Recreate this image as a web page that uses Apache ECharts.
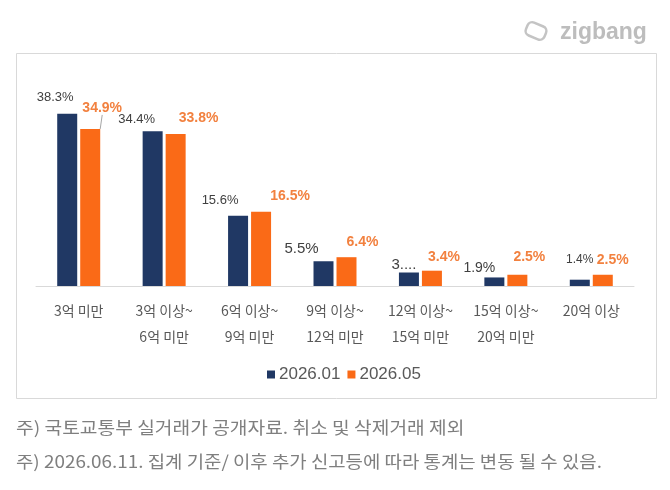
<!DOCTYPE html>
<html><head><meta charset="utf-8">
<script src="https://cdn.jsdelivr.net/npm/echarts@6/dist/echarts.min.js"></script>
<style>html,body{margin:0;padding:0;background:#fff}#c{width:670px;height:490px}</style>
</head><body><div id="c"></div>
<script>
const categories = ['3억 미만','3억 이상~\n6억 미만','6억 이상~\n9억 미만','9억 이상~\n12억 미만','12억 이상~\n15억 미만','15억 이상~\n20억 미만','20억 이상'];
const seriesNames = ['2026.01','2026.05'];
const values2601 = [38.3, 34.4, 15.6, 5.5, 3.0, 1.9, 1.4];
const values2605 = [34.9, 33.8, 16.5, 6.4, 3.4, 2.5, 2.5];
const labels2601 = ['38.3%','34.4%','15.6%','5.5%','3....','1.9%','1.4%'];
const labels2605 = ['34.9%','33.8%','16.5%','6.4%','3.4%','2.5%','2.5%'];
const notes = ['주) 국토교통부 실거래가 공개자료. 취소 및 삭제거래 제외','주) 2026.06.11. 집계 기준/ 이후 추가 신고등에 따라 통계는 변동 될 수 있음.'];

// label styling (offsets / sizes), separate from data
const offA = [[-12,-10],[-16,-5],[-18,-9],[-22,-5],[-5,0],[-15,-2],[0,-14]];
const sizeA = [13,13,13,15,15,14,12];
const offB = [[12,-14],[23,-9],[29,-9],[16,-8],[12,-7],[12,-11],[10,-8]];

const NAVY = '#203864', ORANGE = '#FA6A17';
const chart = echarts.init(document.getElementById('c'), null, {renderer:'canvas'});

const dataA = values2601.map((v,i)=>({value:v, label:{formatter:labels2601[i], offset:offA[i], fontSize:sizeA[i]}}));
const dataB = values2605.map((v,i)=>{
  const d = {value:v, label:{formatter:labels2605[i]}};
  if(i===0){ d.labelLine = {show:true, lineStyle:{color:'#A6A6A6', width:1}}; }
  return d;
});

chart.setOption({
  animation:false,
  backgroundColor:'#fff',
  grid:{left:36, right:36, top:106, height:180},
  legend:{
    data:seriesNames, bottom:102, left:262, itemWidth:8, itemHeight:8, itemGap:7,
    icon:'rect',
    textStyle:{fontFamily:'Liberation Sans', fontSize:17, color:'#595959', padding:[0,0,0,-1]}
  },
  xAxis:{
    type:'category', data:categories,
    axisLine:{lineStyle:{color:'#D9D9D9', width:1}},
    axisTick:{show:false},
    axisLabel:{fontFamily:'Noto Sans CJK KR', fontSize:14, color:'#595959', lineHeight:26, margin:12, interval:0}
  },
  yAxis:{type:'value', min:0, max:40, show:false, splitLine:{show:false}},
  series:[
    {name:seriesNames[0], type:'bar', data:dataA, barWidth:20, barGap:'15%',
     itemStyle:{color:NAVY},
     label:{show:true, position:'top', distance:0, fontFamily:'Liberation Sans', fontSize:13, color:'#404040'}},
    {name:seriesNames[1], type:'bar', data:dataB, barWidth:20,
     itemStyle:{color:ORANGE},
     label:{show:true, position:'top', distance:0, fontFamily:'Liberation Sans', fontSize:14, fontWeight:'bold', color:'#F2813F'},
     labelLayout:function(p){ const o = offB[p.dataIndex]; return {dx:o[0], dy:o[1]}; }}
  ],
  graphic:[
    {type:'rect', shape:{x:16.5, y:53.5, width:640, height:345}, style:{fill:'none', stroke:'#D9D9D9', lineWidth:1}, silent:true},
    {type:'rect', shape:{x:-10, y:-7, width:20, height:14, r:5}, x:536, y:31, rotation:-0.4,
     style:{fill:'none', stroke:'#C4C4C4', lineWidth:2.5}},
    {type:'text', x:560, y:33, style:{text:'zigbang', fontFamily:'Liberation Sans', fontWeight:'bold', fontSize:23, fill:'#BDBDBD', verticalAlign:'middle', align:'left'}},
    {type:'text', x:16, y:428, scaleX:1.13, style:{text:notes[0], fontFamily:'Noto Sans CJK KR', fontSize:17, fill:'#7F7F7F', verticalAlign:'middle'}},
    {type:'text', x:16, y:462, scaleX:1.11, style:{text:notes[1], fontFamily:'Noto Sans CJK KR', fontSize:17, fill:'#7F7F7F', verticalAlign:'middle'}}
  ]
});
</script></body></html>
